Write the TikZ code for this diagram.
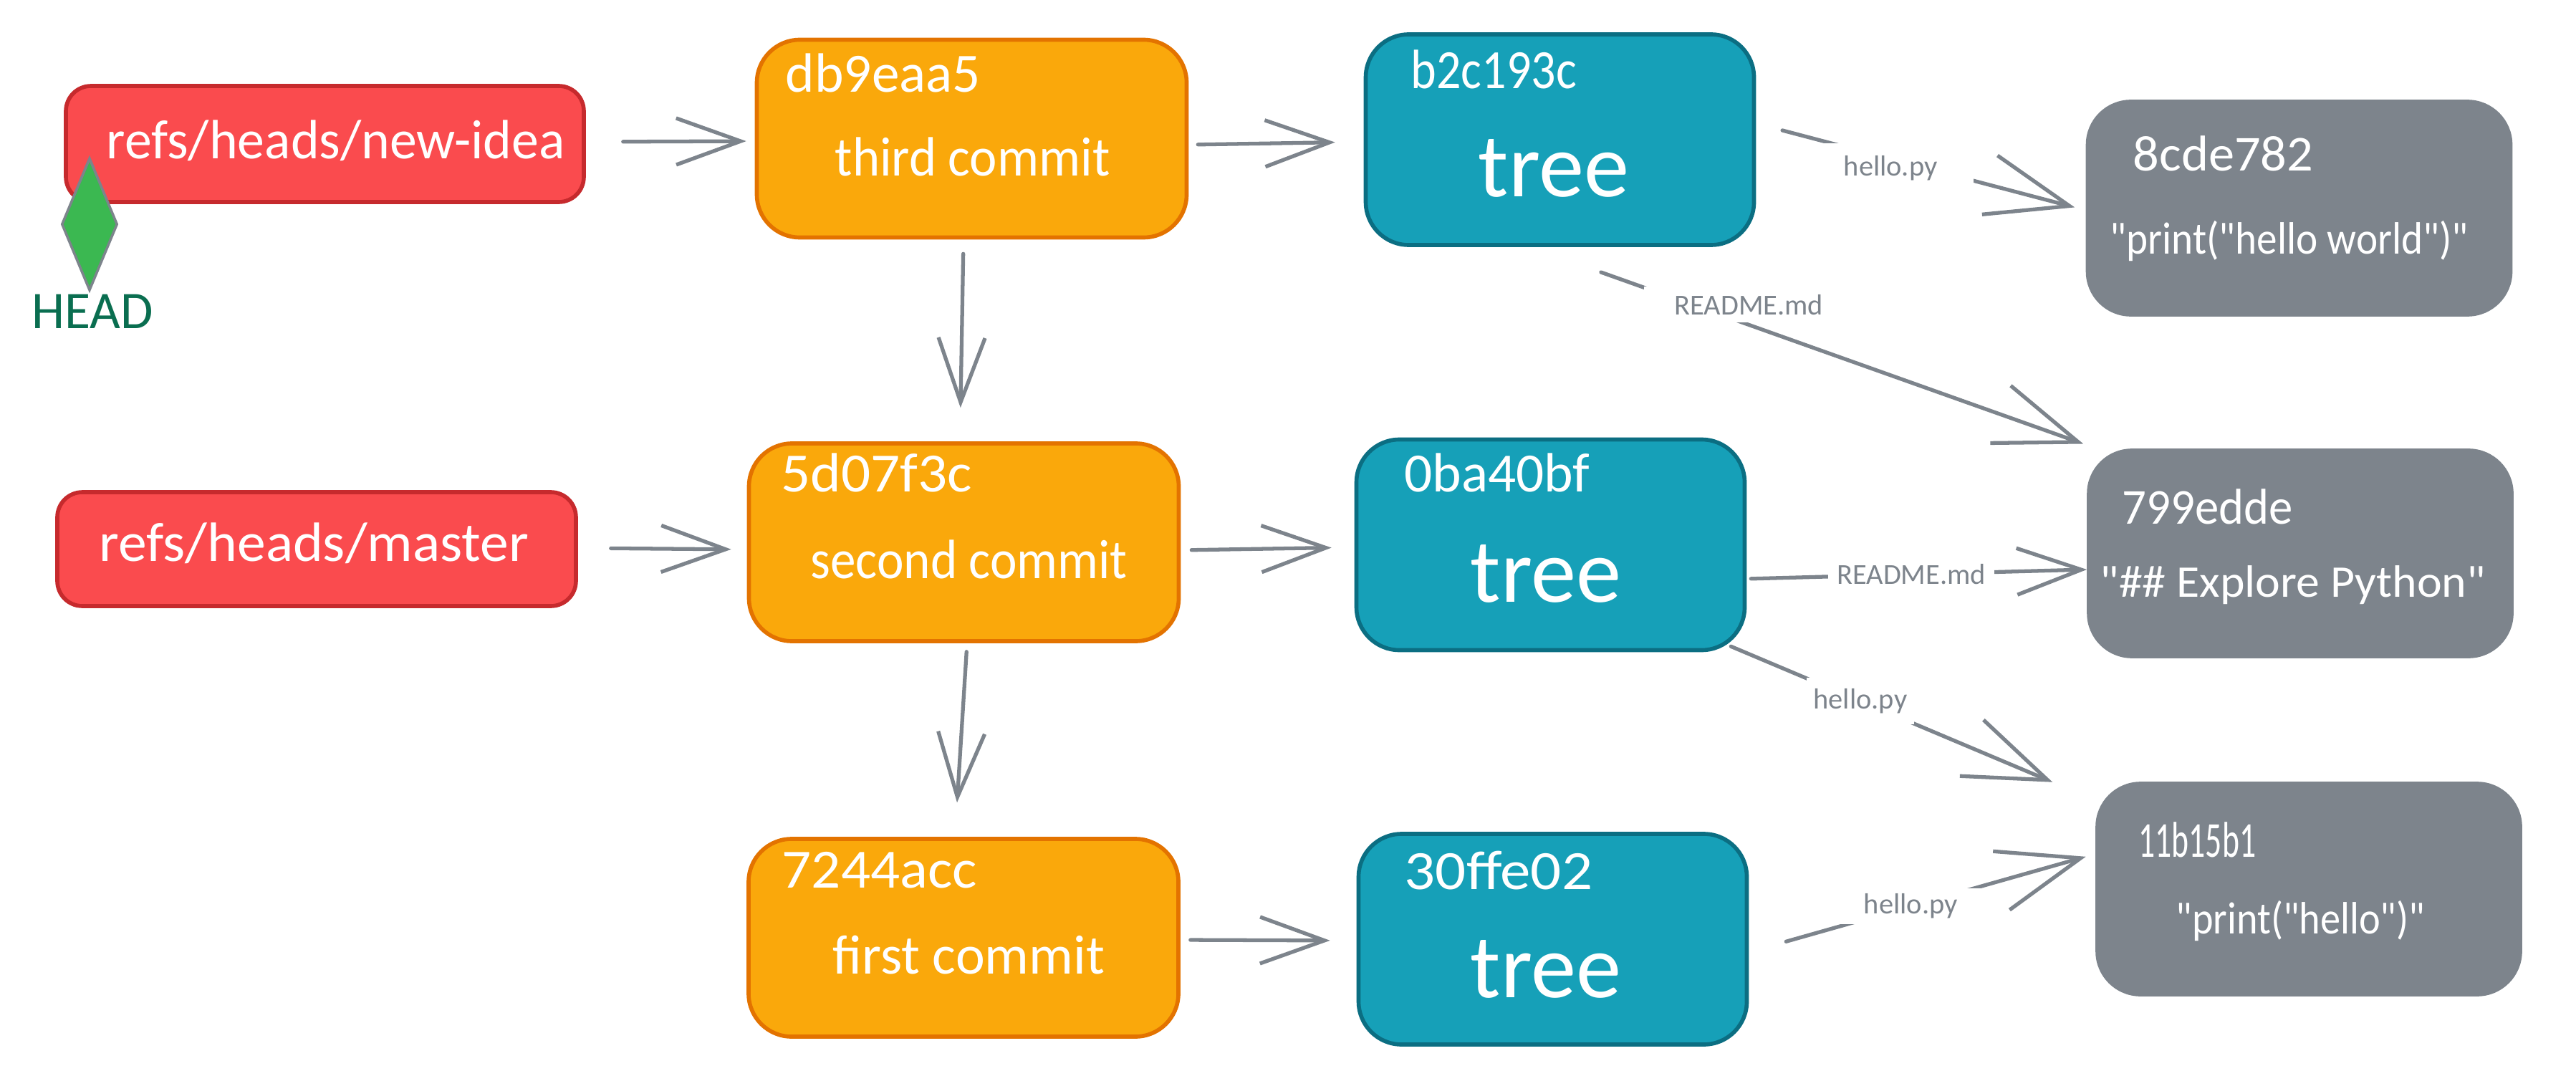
\documentclass[tikz,border=0pt]{standalone}
\usepackage{fontspec}
\setmainfont{Carlito}
\newfontfamily\quotefont{Carlito}
\usetikzlibrary{arrows.meta, shapes.geometric}

\definecolor{refred}{HTML}{FA4B4E}
\definecolor{refline}{HTML}{C62A2D}
\definecolor{commitfill}{HTML}{FAA80B}
\definecolor{commitline}{HTML}{E37300}
\definecolor{treefill}{HTML}{16A0B8}
\definecolor{treeline}{HTML}{0B6E82}
\definecolor{blobgray}{HTML}{7D848C}
\definecolor{headgreen}{HTML}{3BB851}
\definecolor{headtext}{HTML}{0A6E50}

\begin{document}
\begin{tikzpicture}[>={Straight Barb[length=.9cm,width=.65cm]}, line cap=round]
          \tikzstyle{box}=[rectangle, inner sep=0, line width=1.6pt]
          \tikzstyle{refbox}=[box, rounded corners=.35cm, draw=refline, fill=refred]
          \tikzstyle{commit}=[box, rounded corners=.6cm, draw=commitline, fill=commitfill, minimum width=6cm, minimum height=2.76cm]
          \tikzstyle{tree}=[box, rounded corners=.6cm, draw=treeline, fill=treefill, minimum width=5.42cm, minimum height=2.94cm]
          \tikzstyle{blob}=[box, rounded corners=.6cm, draw=blobgray, fill=blobgray, minimum width=5.9cm]
          \tikzstyle{txt}=[white, anchor=base west, inner sep=0, transform shape, font=\fontsize{22}{26}\selectfont]
          \tikzstyle{bigtxt}=[txt, font=\fontsize{36}{40}\selectfont]
          \tikzstyle{blobid}=[txt, font=\fontsize{20}{24}\selectfont]
          \tikzstyle{blobtxt}=[txt, font=\quotefont\fontsize{18}{22}\selectfont]
          \tikzstyle{link}=[blobgray, line width=1.5pt]
          \tikzstyle{filelabel}=[fill=white, text=blobgray, inner ysep=0, minimum height=.5cm, font=\fontsize{11.5}{14}\selectfont]
          \tikzset{longhead/.style={-{Straight Barb[length=1.15cm,width=.85cm]}}}

          \useasboundingbox (0,0) rectangle (35.96,14.94);

          % refs
          \node[refbox, minimum width=7.23cm, minimum height=1.62cm] at (4.535,12.93) (ref3) {};
          \node[refbox, minimum width=7.24cm, minimum height=1.59cm] at (4.42,7.275) (ref2) {};
          \node[txt, xscale=.98] at (1.48,12.72) (ref3txt) {refs/heads/new-idea};
          \node[txt, xscale=1.03] at (1.38,7.11) (ref2txt) {refs/heads/master};

          % HEAD
          \node[diamond, aspect=.42, inner sep=0, minimum width=.78cm, minimum height=1.85cm, draw=blobgray, fill=headgreen, line width=1pt] at (1.25,11.81) (head) {};
          \node[txt, text=headtext, font=\fontsize{21}{25}\selectfont] at (.44,10.35) (headtxt) {HEAD};

          % commits
          \node[commit] at (13.565,13.005) (commit3) {};
          \node[commit] at (13.455,7.37) (commit2) {};
          \node[commit] at (13.45,1.85) (commit1) {};
          \node[txt] at (10.96,13.65) (commit3id) {db9eaa5};
          \node[txt, xscale=.94] at (11.65,12.48) (commit3msg) {third commit};
          \node[txt, xscale=1.05] at (10.90,8.08) (commit2id) {5d07f3c};
          \node[txt, xscale=.92] at (11.31,6.87) (commit2msg) {second commit};
          \node[txt, xscale=1.05] at (10.91,2.55) (commit1id) {7244acc};
          \node[txt] at (11.62,1.35) (commit1msg) {first commit};

          % trees
          \node[tree] at (21.775,12.99) (tree3) {};
          \node[tree] at (21.645,7.335) (tree2) {};
          \node[tree] at (21.675,1.83) (tree1) {};
          \node[txt, xscale=.88] at (19.69,13.70) (tree3id) {b2c193c};
          \node[bigtxt] at (20.63,12.19) (tree3txt) {tree};
          \node[txt] at (19.60,8.08) (tree2id) {0ba40bf};
          \node[bigtxt] at (20.52,6.54) (tree2txt) {tree};
          \node[txt, xscale=1.1] at (19.60,2.53) (tree1id) {30ffe02};
          \node[bigtxt] at (20.52,1.02) (tree1txt) {tree};

          % blobs
          \node[blob, minimum height=2.97cm] at (32.095,12.035) (blob1) {};
          \node[blob, minimum height=2.87cm] at (32.11,7.215) (blob2) {};
          \node[blob, minimum height=2.94cm] at (32.23,2.53) (blob3) {};
          \node[blobid, xscale=1.03] at (29.77,12.55) (blob1id) {8cde782};
          \node[blobtxt, xscale=.905] at (29.45,11.39) (blob1txt) {"print("hello world")"};
          \node[blobid, xscale=.95] at (29.62,7.63) (blob2id) {799edde};
          \node[blobtxt, xscale=1.04] at (29.31,6.61) (blob2txt) {"\#\# Explore Python"};
          \node[blobid, xscale=.65] at (29.85,2.98) (blob3id) {11b15b1};
          \node[blobtxt, xscale=.89] at (30.37,1.91) (blob3txt) {"print("hello")"};

          % refs and commits
          \path ([yshift=.03cm]ref3.east) edge[->, link, shorten <=.52cm, shorten >=.12cm] ([yshift=-.035cm]commit3.west);
          \path ([yshift=.015cm]ref2.east) edge[->, link, shorten <=.46cm, shorten >=.22cm] ([yshift=-.1cm]commit2.west);
          \path ([xshift=-.115cm]commit3.south) edge[->, link, shorten <=.2cm, shorten >=.47cm] ([xshift=-.055cm]commit2.north);
          \path ([xshift=.045cm]commit2.south) edge[->, link, shorten <=.12cm, shorten >=.48cm] ([xshift=-.12cm]commit1.north);

          % commits to trees
          \path ([yshift=-.085cm]commit3.east) edge[->, link, shorten <=.13cm, shorten >=.4cm] ([yshift=-.03cm]tree3.west);
          \path ([yshift=-.11cm]commit2.east) edge[->, link, shorten <=.15cm, shorten >=.32cm] ([yshift=-.035cm]tree2.west);
          \path ([yshift=-.03cm]commit1.east) edge[->, link, shorten <=.14cm, shorten >=.37cm] ([yshift=-.02cm]tree1.west);

          % trees to blobs
          \path ([yshift=.227cm]tree3.east) edge[longhead, link, shorten <=.38cm, shorten >=.16cm]
            node[filelabel, pos=.408, yshift=-.13cm, inner xsep=.5cm, minimum height=.7cm] (file1) {hello.py} ([yshift=-.03cm]blob1.west);
          \path ([xshift=-.415cm]tree3.south) edge[longhead, link, shorten <=1.05cm, shorten >=.2cm]
            node[filelabel, pos=.386, yshift=.28cm, inner xsep=.43cm] (file2) {README.md} ([xshift=-2.84cm]blob2.north);
          \path ([yshift=-.475cm]tree2.east) edge[->, link, shorten <=.06cm, shorten >=0cm]
            node[filelabel, pos=.484, inner xsep=.12cm] (file3) {README.md} ([yshift=-.225cm]blob2.west);
          \path ([xshift=-.22cm,yshift=.08cm]tree2.south east) edge[longhead, link, shorten >=.65cm]
            node[filelabel, pos=.355, inner xsep=.1cm, minimum height=.65cm] (file4) {hello.py} ([yshift=1.24cm]blob3.west);
          \path ([yshift=-.18cm]tree1.east) edge[longhead, link, shorten <=.54cm, shorten >=.14cm]
            node[filelabel, pos=.467, inner xsep=.34cm] (file5) {hello.py} ([yshift=.49cm]blob3.west);

        \end{tikzpicture}
\end{document}
